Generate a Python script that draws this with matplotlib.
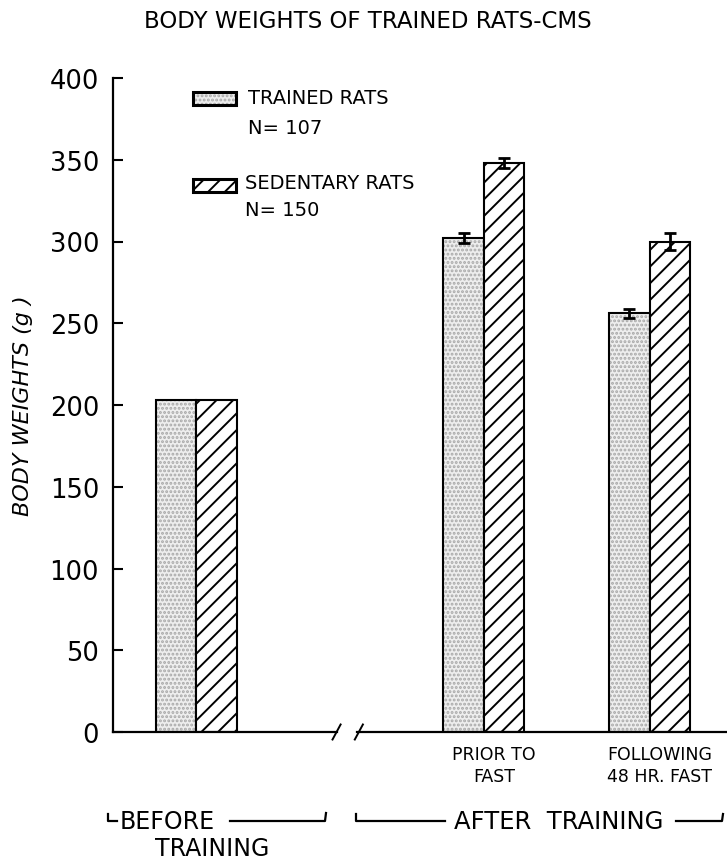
import numpy as np
import matplotlib.pyplot as plt
from matplotlib.patches import Rectangle
from matplotlib.lines import Line2D

# data
groups = ["BEFORE\nTRAINING", "PRIOR TO\nFAST", "FOLLOWING\n48 HR. FAST"]
trained = [203, 302, 256]
sedentary = [203, 348, 300]
trained_err = [0, 3, 3]
sedentary_err = [0, 3, 5]
yticks = [0, 50, 100, 150, 200, 250, 300, 350, 400]

plt.rcParams['font.family'] = ['DejaVu Sans']
plt.rcParams['hatch.linewidth'] = 1.4

W, H = 727, 862
fig = plt.figure(figsize=(W / 100, H / 100), dpi=100)
ax = fig.add_axes([113 / W, 1 - 733 / H, (W - 113) / W, (733 - 79) / H])

# group centres (in bar-width units)
xc = np.array([2.06, 9.16, 13.25])
bw = 1.0

STIP_FACE = '#eeeeee'
STIP_DOT = '#a8a8a8'

# stipple fill first, black outline on top
ax.bar(xc - bw / 2, trained, bw, facecolor=STIP_FACE, edgecolor=STIP_DOT,
       linewidth=0, hatch='....')
ax.bar(xc - bw / 2, trained, bw, fill=False, edgecolor='black', linewidth=1.5)
ax.bar(xc + bw / 2, sedentary, bw, facecolor='white', edgecolor='black',
       linewidth=1.5, hatch='//')

# error bars only after training
ax.errorbar(xc[1:] - bw / 2, trained[1:], yerr=trained_err[1:], fmt='none',
            ecolor='black', elinewidth=2, capsize=4.5, capthick=2)
ax.errorbar(xc[1:] + bw / 2, sedentary[1:], yerr=sedentary_err[1:], fmt='none',
            ecolor='black', elinewidth=2, capsize=4.5, capthick=2)

ax.set_xlim(0, 15.16)
ax.set_ylim(0, 400)
ax.set_yticks(yticks)
ax.tick_params(axis='y', direction='in', length=7, width=1.5, labelsize=18.5, pad=10)
ax.set_xticks([])
for s in ['top', 'right', 'bottom']:
    ax.spines[s].set_visible(False)
ax.spines['left'].set_linewidth(1.6)

# broken x axis
ax.plot([0, 5.52], [0, 0], color='black', lw=1.6, clip_on=False)
ax.plot([6.03, 15.16], [0, 0], color='black', lw=1.6, clip_on=False)
for bx in [5.42, 5.97]:
    ax.plot([bx, bx + 0.2], [-4.6, 4.6], color='black', lw=1.4, clip_on=False)

# category labels under the after-training groups
for x, lab in zip(xc[1:], groups[1:]):
    ax.text(x + 0.25, -8, lab, ha='center', va='top', fontsize=12.5,
            linespacing=1.3)

ax.set_ylabel("BODY WEIGHTS (g )", fontsize=16, style='italic', labelpad=12)

fig.text(368 / W, 1 - 22 / H, "BODY WEIGHTS OF TRAINED RATS-CMS",
         ha='center', va='center', fontsize=16.5)

# legend drawn by hand
def fx(px):
    return px / W

def fy(py):
    return 1 - py / H

fig.patches.append(Rectangle((fx(193), fy(106)), fx(236) - fx(193), fy(93) - fy(106),
                             transform=fig.transFigure, facecolor=STIP_FACE,
                             edgecolor=STIP_DOT, linewidth=0, hatch='....'))
fig.patches.append(Rectangle((fx(193), fy(106)), fx(236) - fx(193), fy(93) - fy(106),
                             transform=fig.transFigure, fill=False,
                             edgecolor='black', linewidth=2.2))
fig.patches.append(Rectangle((fx(193), fy(193)), fx(236) - fx(193), fy(180) - fy(193),
                             transform=fig.transFigure, facecolor='white',
                             edgecolor='black', linewidth=2.2, hatch='//'))
fig.text(fx(248), fy(99), "TRAINED RATS", ha='left', va='center', fontsize=14)
fig.text(fx(248), fy(128), "N= 107", ha='left', va='center', fontsize=14)
fig.text(fx(245), fy(184), "SEDENTARY RATS", ha='left', va='center', fontsize=14)
fig.text(fx(245), fy(211), "N= 150", ha='left', va='center', fontsize=14)

# period brackets along the bottom
def seg(xs, ys):
    fig.add_artist(Line2D([fx(v) for v in xs], [fy(v) for v in ys],
                          color='black', lw=1.6, transform=fig.transFigure))

seg([108, 108, 117], [815, 822, 822])
fig.text(fx(167), fy(822), "BEFORE", ha='center', va='center', fontsize=17)
fig.text(fx(212), fy(849), "TRAINING", ha='center', va='center', fontsize=17)
seg([230, 325, 326], [822, 822, 814])
seg([356, 356, 445], [815, 822, 822])
fig.text(fx(559), fy(822), "AFTER  TRAINING", ha='center', va='center', fontsize=17.5)
seg([676, 722, 723], [822, 822, 815])

fig.savefig("out.png", dpi=100)
